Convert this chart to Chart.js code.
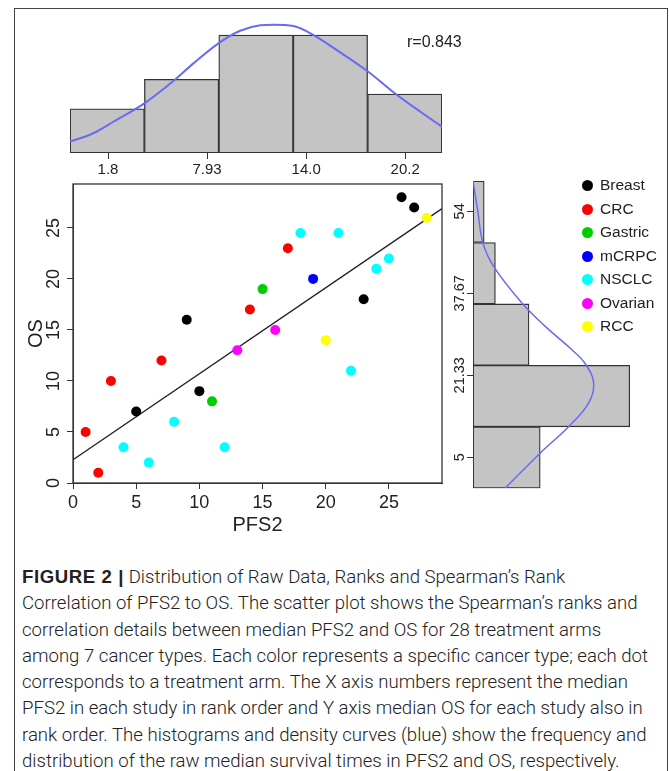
<!DOCTYPE html>
<html>
<head>
<meta charset="utf-8">
<script src="https://cdn.jsdelivr.net/npm/chart.js@4.4.0/dist/chart.umd.min.js"></script>
<style>
  html, body { margin: 0; padding: 0; background: #fff; }
  body { width: 669px; height: 771px; position: relative; overflow: hidden; font-family: 'Liberation Sans', Arial, sans-serif; }
  #frame { position: absolute; left: 14px; top: 8px; width: 654px; height: 800px; border: 1px solid #444; border-bottom: none; box-sizing: border-box; }
  canvas { position: absolute; }
  #histTop { left: 0; top: 10px; }
  #scatter { left: 0; top: 170px; }
  #histRight { left: 440px; top: 170px; }
  #rlabel { position: absolute; left: 407px; top: 33px; font-size: 16px; color: #222; }
  #legend { position: absolute; left: 582px; top: 173px; font-size: 15.5px; color: #222; }
  #legend .item { height: 23.55px; line-height: 23.55px; white-space: nowrap; }
  #legend .dot { display: inline-block; width: 11px; height: 11px; border-radius: 50%; margin-right: 7px; vertical-align: -1px; }
  #caption { position: absolute; left: 22px; top: 564px; font-family: Roboto, sans-serif; font-weight: 300; font-size: 18.6px; line-height: 26.3px; color: #222; white-space: nowrap; }
  #caption b { font-family: 'Liberation Sans', Arial, sans-serif; font-weight: 700; letter-spacing: 0.6px; }
</style>
</head>
<body>
<div id="frame"></div>
<canvas id="histTop" width="452" height="180"></canvas>
<canvas id="scatter" width="452" height="370"></canvas>
<canvas id="histRight" width="229" height="330"></canvas>
<div id="rlabel">r=0.843</div>
<div id="legend"></div>
<div id="caption">
  <b>FIGURE 2 |</b> Distribution of Raw Data, Ranks and Spearman’s Rank<br>
  Correlation of PFS2 to OS. The scatter plot shows the Spearman’s ranks and<br>
  correlation details between median PFS2 and OS for 28 treatment arms<br>
  among 7 cancer types. Each color represents a specific cancer type; each dot<br>
  corresponds to a treatment arm. The X axis numbers represent the median<br>
  PFS2 in each study in rank order and Y axis median OS for each study also in<br>
  rank order. The histograms and density curves (blue) show the frequency and<br>
  distribution of the raw median survival times in PFS2 and OS, respectively.
</div>
<script>
// cancer types and their colours
const cancerTypes = ['Breast', 'CRC', 'Gastric', 'mCRPC', 'NSCLC', 'Ovarian', 'RCC'];
const typeColors = ['#000000', '#ff0000', '#00cd00', '#0000ff', '#00ffff', '#ff00ff', '#ffff00'];

// one entry per treatment arm (ordered by PFS2 rank)
const pfs2Rank = [1, 2, 3, 4, 5, 6, 7, 8, 9, 10, 11, 12, 13, 14, 15, 16, 17, 18, 19, 20, 21, 22, 23, 24, 25, 26, 27, 28];
const osRank = [5, 1, 10, 3.5, 7, 2, 12, 6, 16, 9, 8, 3.5, 13, 17, 19, 15, 23, 24.5, 20, 14, 24.5, 11, 18, 21, 22, 28, 27, 26];
const armType = [1, 1, 1, 4, 0, 4, 1, 4, 0, 0, 2, 4, 5, 1, 2, 5, 1, 4, 3, 6, 4, 4, 0, 4, 4, 0, 0, 6];

// least squares line on the ranks
const fitIntercept = 2.28;
const fitSlope = 0.843;

// PFS2 histogram (top)
const pfs2Breaks = [-0.55, 4.05, 8.65, 13.25, 17.85, 22.45];
const pfs2Counts = [3, 5, 8, 8, 4];
const pfs2TickValues = [1.8, 7.925, 14.05, 20.175];
const pfs2TickLabels = ['1.8', '7.93', '14.0', '20.2'];
const pfs2DensX = [-0.55, 0.89, 2.13, 4.05, 5.84, 7.08, 8.63, 9.97, 11.21, 12.03, 13.27, 14.51, 15.95, 17.83, 19.67, 21.11, 22.45];
const pfs2DensY = [0.77, 1.34, 2.12, 3.37, 4.88, 6.08, 7.44, 8.29, 8.66, 8.7, 8.61, 8.0, 6.98, 5.56, 3.93, 2.8, 1.78];

// OS histogram (right)
const osBreaks = [-1.2, 11.05, 23.3, 35.55, 47.8, 60.05];
const osCounts = [6, 14, 5, 2, 1];
const osTickValues = [5, 21.33, 37.67, 54];
const osTickLabels = ['5', '21.33', '37.67', '54'];
const osDensValue = [60.0, 54.35, 47.7, 43.04, 35.73, 31.07, 26.42, 23.63, 19.78, 15.79, 11.07, 5.8, -1.19];
const osDensCount = [0, 0.41, 0.89, 1.84, 4.37, 6.45, 8.83, 10.02, 10.77, 10.32, 8.53, 5.99, 2.87];

Chart.defaults.font.family = "'Liberation Sans', Arial, sans-serif";
Chart.defaults.color = '#222';
Chart.defaults.animation = false;
Chart.defaults.responsive = false;
Chart.defaults.devicePixelRatio = 1;
Chart.defaults.plugins.legend.display = false;
Chart.defaults.plugins.tooltip.enabled = false;

const axisColor = '#333';
const barFill = '#c4c4c4';
const densColor = '#6a6af2';

// box around the scatter plot area
const framePlugin = {
  id: 'frame',
  afterDraw(chart) {
    const { ctx, chartArea: a } = chart;
    ctx.save();
    ctx.strokeStyle = axisColor;
    ctx.lineWidth = 1.3;
    ctx.strokeRect(a.left, a.top, a.right - a.left, a.bottom - a.top);
    ctx.restore();
  }
};

function mids(breaks) {
  const out = [];
  for (let i = 0; i < breaks.length - 1; i++) out.push((breaks[i] + breaks[i + 1]) / 2);
  return out;
}

// top histogram
const pfs2Mids = mids(pfs2Breaks);
new Chart(document.getElementById('histTop'), {
  type: 'bar',
  data: {
    datasets: [
      {
        data: pfs2Counts.map((c, i) => ({ x: pfs2Mids[i], y: c })),
        backgroundColor: barFill,
        borderColor: axisColor,
        borderWidth: 1.3,
        borderSkipped: false,
        barPercentage: 1,
        categoryPercentage: 1,
        order: 2
      },
      {
        type: 'line',
        data: pfs2DensX.map((x, i) => ({ x: x, y: pfs2DensY[i] })),
        borderColor: densColor,
        borderWidth: 2,
        pointRadius: 0,
        cubicInterpolationMode: 'monotone',
        fill: false,
        order: 1
      }
    ]
  },
  options: {
    layout: { padding: { left: 70, right: 10, top: 0, bottom: 0 } },
    scales: {
      x: {
        type: 'linear',
        min: pfs2Breaks[0],
        max: pfs2Breaks[pfs2Breaks.length - 1],
        offset: false,
        afterBuildTicks: s => { s.ticks = pfs2TickValues.map(v => ({ value: v })); },
        afterFit: s => { s.height = 37; },
        ticks: { callback: (v, i) => pfs2TickLabels[i], font: { size: 15 }, padding: 2, autoSkip: false, maxRotation: 0 },
        grid: { offset: false, drawOnChartArea: false, drawTicks: true, tickLength: 6, color: axisColor },
        border: { display: false }
      },
      y: { display: false, offset: false, min: 0, max: 9.7 }
    }
  }
});

// scatter of ranks
const scatterSets = cancerTypes.map((name, t) => ({
  type: 'scatter',
  label: name,
  data: pfs2Rank.map((x, i) => ({ x: x, y: osRank[i], t: armType[i] })).filter(p => p.t === t),
  backgroundColor: typeColors[t],
  borderWidth: 0,
  pointRadius: 5,
  order: 1
}));
const xMax = 29.2;
const yMax = 29.3;
scatterSets.push({
  type: 'line',
  data: [{ x: 0, y: fitIntercept }, { x: xMax, y: fitIntercept + fitSlope * xMax }],
  borderColor: '#222',
  borderWidth: 1.4,
  pointRadius: 0,
  order: 2
});

new Chart(document.getElementById('scatter'), {
  type: 'scatter',
  data: { datasets: scatterSets },
  options: {
    layout: { padding: { left: 0, right: 10, top: 14, bottom: 0 } },
    scales: {
      x: {
        type: 'linear', min: 0, max: xMax,
        afterFit: s => { s.height = 57; },
        ticks: { stepSize: 5, includeBounds: false, font: { size: 18 }, padding: 3, maxRotation: 0 },
        grid: { drawOnChartArea: false, tickLength: 6, color: axisColor },
        border: { color: axisColor },
        title: { display: true, text: 'PFS2', font: { size: 20 }, color: '#222', padding: { top: 0, bottom: 3 } }
      },
      y: {
        type: 'linear', min: 0, max: yMax,
        afterFit: s => { s.width = 73; },
        ticks: { stepSize: 5, includeBounds: false, font: { size: 18 }, padding: 3, minRotation: 90, maxRotation: 90, crossAlign: 'center' },
        grid: { drawOnChartArea: false, tickLength: 6, color: axisColor },
        border: { color: axisColor },
        title: { display: true, text: 'OS', font: { size: 20 }, color: '#222', padding: { top: 24, bottom: 0 } }
      }
    }
  },
  plugins: [framePlugin]
});

// right histogram (horizontal)
const osMids = mids(osBreaks);
new Chart(document.getElementById('histRight'), {
  type: 'bar',
  data: {
    datasets: [
      {
        indexAxis: 'y',
        data: osCounts.map((c, i) => ({ x: c, y: osMids[i] })),
        backgroundColor: barFill,
        borderColor: axisColor,
        borderWidth: 1.3,
        borderSkipped: false,
        barPercentage: 1,
        categoryPercentage: 1,
        order: 2
      },
      {
        type: 'line',
        data: osDensValue.map((v, i) => ({ x: osDensCount[i], y: v })),
        borderColor: densColor,
        borderWidth: 1.5,
        pointRadius: 0,
        tension: 0.4,
        fill: false,
        order: 1
      }
    ]
  },
  options: {
    layout: { padding: { left: 0, right: 28, top: 11, bottom: 11.7 } },
    scales: {
      x: { type: 'linear', display: false, offset: false, grid: { offset: false }, min: 0, max: 15 },
      y: {
        type: 'linear',
        min: osBreaks[0],
        max: osBreaks[osBreaks.length - 1],
        offset: false,
        afterBuildTicks: s => { s.ticks = osTickValues.map(v => ({ value: v })); },
        afterFit: s => { s.width = 33; },
        ticks: { callback: (v, i) => osTickLabels[i], font: { size: 14.5 }, padding: -11, minRotation: 90, maxRotation: 90, crossAlign: 'center', autoSkip: false },
        grid: { offset: false, drawOnChartArea: false, tickLength: 6, color: axisColor },
        border: { display: false }
      }
    }
  }
});

// legend
const legendBox = document.getElementById('legend');
cancerTypes.forEach((name, t) => {
  const item = document.createElement('div');
  item.className = 'item';
  const dot = document.createElement('span');
  dot.className = 'dot';
  dot.style.background = typeColors[t];
  item.appendChild(dot);
  item.appendChild(document.createTextNode(name));
  legendBox.appendChild(item);
});
</script>
</body>
</html>
